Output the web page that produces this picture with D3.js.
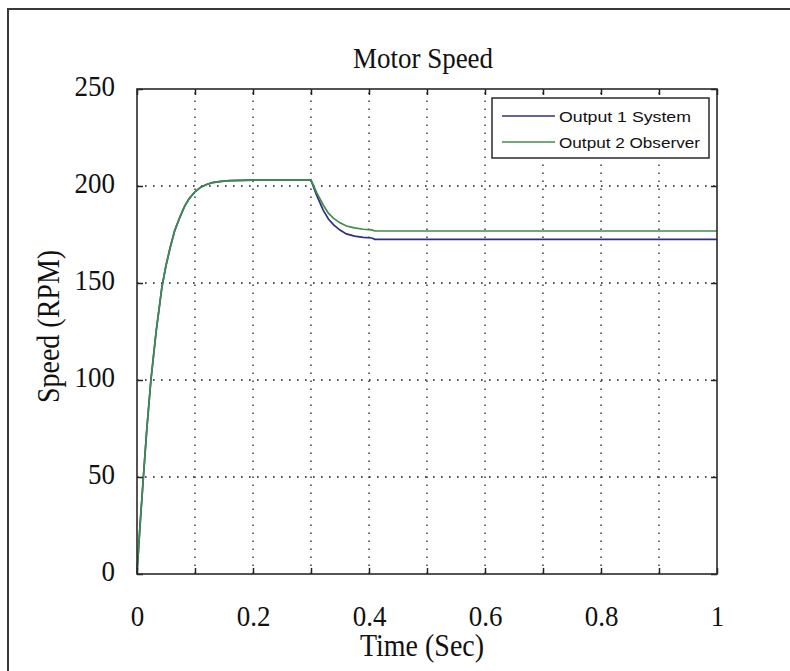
<!DOCTYPE html>
<html>
<head>
<meta charset="utf-8">
<script src="https://cdn.jsdelivr.net/npm/d3@7"></script>
<style>
    body { margin: 0; background: #fff; }
    svg { display: block; }
    .serif { font-family: "Liberation Serif", "Times New Roman", serif; fill: #111; }
</style>
</head>
<body>
<svg id="chart"></svg>
<script>
// data
const timeSec = [0, 0.005, 0.011, 0.017, 0.024, 0.033, 0.043, 0.05, 0.057, 0.065, 0.074, 0.082, 0.09, 0.1, 0.11, 0.12, 0.13, 0.145, 0.16, 0.2, 0.25, 0.3,
    0.305, 0.31, 0.321, 0.33, 0.339, 0.35, 0.361, 0.375, 0.39, 0.405, 0.41, 1.0];
const systemRpm = [0, 24, 50, 75, 100, 125, 148, 159, 168, 177, 184, 189.5, 193.5, 197, 199.4, 200.8, 201.7, 202.4, 202.8, 203, 203, 203,
    199, 195, 187.6, 183, 180, 177.3, 175.3, 174.2, 173.5, 173.2, 172.5, 172.5];
const observerRpm = [0, 24, 50, 75, 100, 125, 148, 159, 168, 177, 184, 189.5, 193.5, 197, 199.4, 200.8, 201.7, 202.4, 202.8, 203, 203, 203,
    199.8, 196.5, 190.2, 186, 183.3, 181, 179.4, 178.4, 177.7, 177.4, 176.8, 176.8];
const seriesNames = ['Output 1 System', 'Output 2 Observer'];
const seriesColors = ['#2f2f80', '#3d8c4c'];
const xTicks = [0, 0.1, 0.2, 0.3, 0.4, 0.5, 0.6, 0.7, 0.8, 0.9, 1];
const xLabelTicks = [0, 0.2, 0.4, 0.6, 0.8, 1];
const yTicks = [0, 50, 100, 150, 200, 250];

class SpeedChart {
    constructor (config, data) {
        this.config = {
            parent: config.parent,
            width: config.width || 790,
            height: config.height || 671,
            margin: config.margin || {top:89, right:73, bottom:97, left:137},
            title: config.title || '',
            xlabel: config.xlabel || '',
            ylabel: config.ylabel || '',
        };
        this.data = data;
        this.init();
    }

    init() {
        let self = this;
        const stretch = 1.12;   // serif text in the picture is a little taller than normal

        self.svg = d3.select(self.config.parent)
            .attr('width', self.config.width)
            .attr('height', self.config.height);

        // figure frame (only left and top edges fall inside the picture)
        self.svg.append('rect')
            .attr('x', 8).attr('y', 9)
            .attr('width', 820).attr('height', 720)
            .attr('fill', 'none')
            .attr('stroke', '#3a3a3a')
            .attr('stroke-width', 2);

        self.inner_width = self.config.width - self.config.margin.left - self.config.margin.right;
        self.inner_height = self.config.height - self.config.margin.top - self.config.margin.bottom;

        self.chart = self.svg.append('g')
            .attr('transform', `translate(${self.config.margin.left}, ${self.config.margin.top})`);

        self.xscale = d3.scaleLinear()
            .domain([0, 1])
            .range([0, self.inner_width]);

        self.yscale = d3.scaleLinear()
            .domain([0, 250])
            .range([self.inner_height, 0]);

        self.grid_group = self.chart.append('g');
        self.line_group = self.chart.append('g');
        self.axis_group = self.chart.append('g');

        const cx = self.config.margin.left + self.inner_width / 2;

        self.svg.append('text')
            .attr('class', 'serif')
            .style('font-size', '27px')
            .attr('transform', `translate(${cx - 4}, 68) scale(1, ${stretch})`)
            .attr('text-anchor', 'middle')
            .text(self.config.title);

        self.svg.append('text')
            .attr('class', 'serif')
            .style('font-size', '28px')
            .attr('transform', `translate(${cx - 5}, 656) scale(1, ${stretch})`)
            .attr('text-anchor', 'middle')
            .text(self.config.xlabel);

        self.svg.append('text')
            .attr('class', 'serif')
            .style('font-size', '28px')
            .attr('transform', `translate(59, ${self.config.margin.top + self.inner_height / 2 - 5}) rotate(-90) scale(1, ${stretch})`)
            .attr('text-anchor', 'middle')
            .text(self.config.ylabel);

        self.stretch = stretch;
    }

    render() {
        let self = this;
        const grid_dash = '1.6,6.4';

        self.grid_group.selectAll('.vgrid')
            .data(xTicks.slice(1, -1))
            .join('line')
            .attr('class', 'vgrid')
            .attr('x1', d => self.xscale(d)).attr('x2', d => self.xscale(d))
            .attr('y1', self.inner_height).attr('y2', 0)
            .attr('stroke', '#1a1a1a')
            .attr('stroke-width', 1.3)
            .attr('stroke-dasharray', grid_dash);

        self.grid_group.selectAll('.hgrid')
            .data(yTicks.slice(1, -1))
            .join('line')
            .attr('class', 'hgrid')
            .attr('x1', 0).attr('x2', self.inner_width)
            .attr('y1', d => self.yscale(d)).attr('y2', d => self.yscale(d))
            .attr('stroke', '#1a1a1a')
            .attr('stroke-width', 1.3)
            .attr('stroke-dasharray', grid_dash);

        self.line = d3.line()
            .x(d => self.xscale(d.t))
            .y(d => self.yscale(d.v));

        self.line_group.selectAll('path')
            .data(self.data)
            .join('path')
            .attr('d', d => self.line(d.values))
            .attr('fill', 'none')
            .attr('stroke', d => d.color)
            .attr('stroke-width', 1.7);

        // tick marks on all four sides, pointing inwards
        const tick_len = 6;
        const marks = [
            [d3.axisBottom(self.xscale).tickValues(xTicks), `translate(0, ${self.inner_height})`],
            [d3.axisTop(self.xscale).tickValues(xTicks), 'translate(0, 0)'],
            [d3.axisLeft(self.yscale).tickValues(yTicks), 'translate(0, 0)'],
            [d3.axisRight(self.yscale).tickValues(yTicks), `translate(${self.inner_width}, 0)`],
        ];
        marks.forEach(([axis, tr]) => {
            const g = self.axis_group.append('g')
                .attr('transform', tr)
                .call(axis.tickSize(-tick_len).tickFormat(''));
            g.select('.domain').remove();
            g.selectAll('line').attr('stroke', '#222').attr('stroke-width', 1.5);
        });

        // tick labels
        const xl = self.axis_group.append('g')
            .attr('transform', `translate(0, ${self.inner_height})`)
            .call(d3.axisBottom(self.xscale).tickValues(xLabelTicks).tickSize(0).tickPadding(27).tickFormat(d3.format('')));
        xl.select('.domain').remove();
        xl.selectAll('text')
            .attr('class', 'serif')
            .style('font-size', '27px')
            .attr('transform', `scale(1, ${self.stretch})`);

        const yl = self.axis_group.append('g')
            .call(d3.axisLeft(self.yscale).tickValues(yTicks).tickSize(0).tickPadding(22).tickFormat(d3.format('d')));
        yl.select('.domain').remove();
        yl.selectAll('text')
            .attr('class', 'serif')
            .style('font-size', '27px')
            .attr('dy', '0.2em')
            .attr('transform', `scale(1, ${self.stretch})`);

        // plot box
        self.axis_group.append('rect')
            .attr('width', self.inner_width)
            .attr('height', self.inner_height)
            .attr('fill', 'none')
            .attr('stroke', '#2a2a2a')
            .attr('stroke-width', 1.6);

        // legend
        const legend = self.chart.append('g')
            .attr('transform', `translate(${492 - self.config.margin.left}, ${98 - self.config.margin.top})`);
        legend.append('rect')
            .attr('width', 217).attr('height', 60)
            .attr('fill', '#fff')
            .attr('stroke', '#2a2a2a')
            .attr('stroke-width', 1.5);
        const row = legend.selectAll('.row')
            .data(self.data)
            .join('g')
            .attr('class', 'row')
            .attr('transform', (d, i) => `translate(0, ${18 + i * 26})`);
        row.append('line')
            .attr('x1', 10).attr('x2', 63)
            .attr('stroke', d => d.color)
            .attr('stroke-width', 1.7);
        row.append('text')
            .attr('x', 67)
            .attr('y', 6)
            .style('font-family', '"Liberation Sans", Arial, sans-serif')
            .style('font-size', '15.5px')
            .attr('fill', '#111')
            .attr('textLength', (d, i) => i === 0 ? 132 : 141)
            .attr('lengthAdjust', 'spacingAndGlyphs')
            .text(d => d.name);
    }
}

const series = [systemRpm, observerRpm].map((vals, i) => ({
    name: seriesNames[i],
    color: seriesColors[i],
    values: timeSec.map((t, j) => ({t: t, v: vals[j]}))
}));

const chart = new SpeedChart({
    parent: '#chart',
    title: 'Motor Speed',
    xlabel: 'Time (Sec)',
    ylabel: 'Speed (RPM)',
}, series);
chart.render();
</script>
</body>
</html>
